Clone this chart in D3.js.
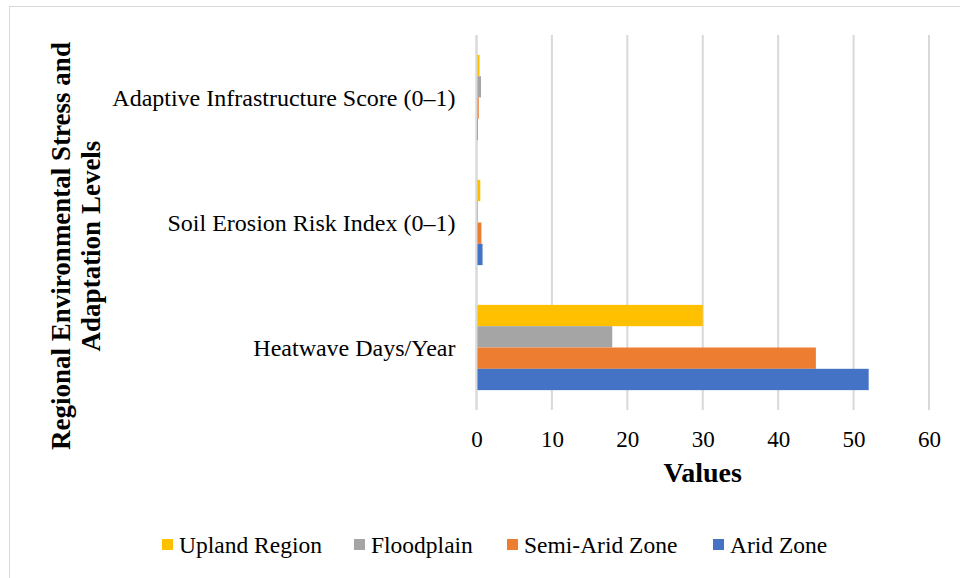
<!DOCTYPE html>
<html>
<head>
<meta charset="utf-8">
<script src="https://cdn.jsdelivr.net/npm/d3@7"></script>
<style>
  html, body { margin: 0; padding: 0; background: #fff; }
  svg { display: block; }
</style>
</head>
<body>
<svg id="chart" width="960" height="578" font-family="'Liberation Serif', 'Times New Roman', serif"></svg>
<script>
// Indicators shown on the category axis (top to bottom)
const categories = [
  "Adaptive Infrastructure Score (0–1)",
  "Soil Erosion Risk Index (0–1)",
  "Heatwave Days/Year"
];

// Regions, in the order they are stacked inside each group (top to bottom)
const seriesNames = ["Upland Region", "Floodplain", "Semi-Arid Zone", "Arid Zone"];
const seriesColors = ["#FFC000", "#A5A5A5", "#ED7D31", "#4472C4"];

// Values per region, aligned with `categories`
const uplandRegion = [0.4, 0.5, 30];
const floodplain   = [0.6, 0.2, 18];
const semiAridZone = [0.3, 0.65, 45];
const aridZone     = [0.2, 0.8, 52];
const seriesValues = [uplandRegion, floodplain, semiAridZone, aridZone];

const xTicks = [0, 10, 20, 30, 40, 50, 60];

const FONT = "'Liberation Serif', 'Times New Roman', serif";
const svg = d3.select("#chart");

// Frame around the chart area
svg.append("rect")
  .attr("x", 9.5).attr("y", 6.5)
  .attr("width", 960).attr("height", 580)
  .attr("fill", "#fff").attr("stroke", "#d9d9d9").attr("stroke-width", 1);

const plot = { left: 476.5, right: 929, top: 35, bottom: 410 };

const x = d3.scaleLinear().domain([0, 60]).range([plot.left, plot.right]);

const y0 = d3.scaleBand()
  .domain(categories)
  .range([plot.top, plot.bottom])
  .paddingInner(0.318)
  .paddingOuter(0.159);

const y1 = d3.scaleBand()
  .domain(seriesNames)
  .range([0, y0.bandwidth()]);

// Vertical gridlines
svg.append("g")
  .selectAll("line")
  .data(xTicks)
  .join("line")
  .attr("x1", d => x(d)).attr("x2", d => x(d))
  .attr("y1", plot.top).attr("y2", plot.bottom)
  .attr("stroke", "#d9d9d9").attr("stroke-width", 2);

// Bars
const rows = [];
categories.forEach((c, i) => {
  seriesNames.forEach((s, j) => {
    rows.push({ category: c, series: s, value: seriesValues[j][i], color: seriesColors[j] });
  });
});

svg.append("g")
  .selectAll("rect")
  .data(rows)
  .join("rect")
  .attr("x", x(0))
  .attr("y", d => y0(d.category) + y1(d.series))
  .attr("width", d => x(d.value) - x(0))
  .attr("height", y1.bandwidth())
  .attr("fill", d => d.color);

// Category axis line
svg.append("line")
  .attr("x1", x(0)).attr("x2", x(0))
  .attr("y1", plot.top).attr("y2", plot.bottom)
  .attr("stroke", "#d9d9d9").attr("stroke-width", 2);

// Value axis tick labels
const xAxis = d3.axisBottom(x).tickValues(xTicks).tickSize(0).tickPadding(0);
const gx = svg.append("g")
  .attr("transform", `translate(0,${plot.bottom})`)
  .call(xAxis)
  .attr("font-family", FONT)
  .attr("font-size", 23);
gx.select(".domain").remove();
gx.selectAll("text")
  .attr("y", 37)
  .attr("dy", 0)
  .attr("fill", "#000");

// Category labels
const yAxis = d3.axisLeft(y0).tickSize(0).tickPadding(21);
const gy = svg.append("g")
  .attr("transform", `translate(${plot.left},0)`)
  .call(yAxis)
  .attr("font-family", FONT)
  .attr("font-size", 24);
gy.select(".domain").remove();
gy.selectAll("text")
  .attr("dy", "0.34em")
  .attr("fill", "#000");

// Axis titles
svg.append("text")
  .attr("x", (plot.left + plot.right) / 2)
  .attr("y", 482)
  .attr("text-anchor", "middle")
  .attr("font-size", 28)
  .attr("font-weight", "bold")
  .text("Values");

const yTitle = svg.append("text")
  .attr("transform", "translate(70,246) rotate(-90)")
  .attr("text-anchor", "middle")
  .attr("font-size", 27)
  .attr("font-weight", "bold");
yTitle.append("tspan").attr("x", 0).attr("y", 0).text("Regional Environmental Stress and");
yTitle.append("tspan").attr("x", 0).attr("y", 30).text("Adaptation Levels");

// Legend
const legendX = [162, 354, 507, 713];
const legend = svg.append("g")
  .selectAll("g")
  .data(seriesNames)
  .join("g")
  .attr("transform", (d, i) => `translate(${legendX[i]},539)`);
legend.append("rect")
  .attr("x", 0).attr("y", 0)
  .attr("width", 11).attr("height", 11)
  .attr("fill", (d, i) => seriesColors[i]);
legend.append("text")
  .attr("x", 17).attr("y", 14)
  .attr("font-size", 23.5)
  .text(d => d);
</script>
</body>
</html>
